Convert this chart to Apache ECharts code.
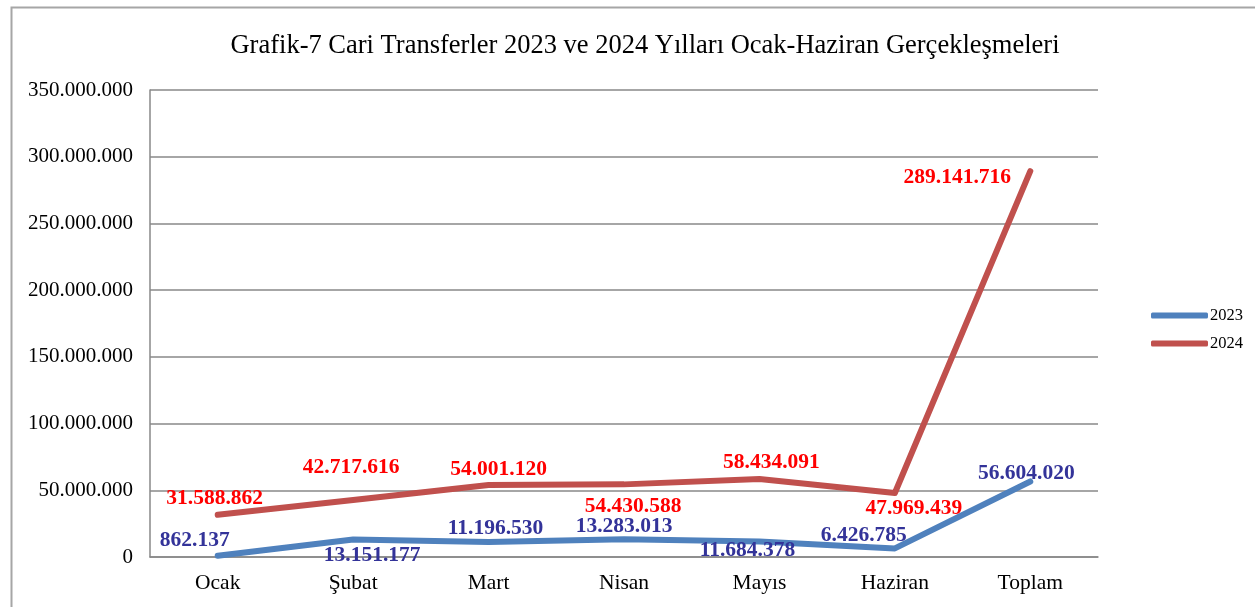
<!DOCTYPE html>
<html>
<head>
<meta charset="utf-8">
<script src="https://cdn.jsdelivr.net/npm/echarts@6/dist/echarts.min.js"></script>
<style>
  html, body { margin: 0; padding: 0; background: #fff; }
  #chart { width: 1255px; height: 607px; }
</style>
</head>
<body>
<div id="chart"></div>
<script>
var months = ['Ocak', 'Şubat', 'Mart', 'Nisan', 'Mayıs', 'Haziran', 'Toplam'];
var values2023 = [862137, 13151177, 11196530, 13283013, 11684378, 6426785, 56604020];
var values2024 = [31588862, 42717616, 54001120, 54430588, 58434091, 47969439, 289141716];
// label offsets from each point (pixels), placed as in the original
var offsets2023 = [[-23, -15], [19, 16], [7, -14], [0, -13], [-12, 9], [-31, -13], [-4, -8]];
var offsets2024 = [[-3, -16], [-2, -33], [10, -15], [9, 22], [12, -17], [19, 15], [-73, 6]];

function fmt(v) {
  return String(v).replace(/\B(?=(\d{3})+(?!\d))/g, '.');
}
function withLabels(vals, offs) {
  return vals.map(function (v, i) {
    return { value: v, label: { offset: offs[i] } };
  });
}

var myChart = echarts.init(document.getElementById('chart'));
var serif = 'Liberation Serif';
var option = {
  animation: false,
  textStyle: { fontFamily: serif },
  title: {
    text: 'Grafik-7 Cari Transferler 2023 ve 2024 Yılları Ocak-Haziran Gerçekleşmeleri',
    left: 640, top: 28, textAlign: 'center',
    textStyle: { fontFamily: serif, fontSize: 26.5, fontWeight: 'normal', color: '#000' }
  },
  graphic: [{
    type: 'rect', left: 9, top: 5,
    shape: { width: 1260, height: 620 },
    style: { fill: 'none', stroke: '#a6a6a6', lineWidth: 2 }
  }],
  legend: {
    orient: 'vertical', left: 1146, top: 302,
    itemWidth: 57, itemHeight: 6, itemGap: 11,
    textStyle: { fontFamily: serif, fontSize: 16.5, color: '#000', padding: [0, 0, 0, -3] },
    data: [
      { name: '2023', icon: 'roundRect' },
      { name: '2024', icon: 'roundRect' }
    ]
  },
  grid: { left: 150, right: 157, top: 90, bottom: 50 },
  xAxis: {
    type: 'category', data: months, boundaryGap: true,
    axisLine: { lineStyle: { color: '#888', width: 1.5 } },
    axisTick: { show: false },
    axisLabel: { fontFamily: serif, fontSize: 21.5, color: '#000', margin: 15 }
  },
  yAxis: {
    type: 'value', min: 0, max: 350000000, interval: 50000000,
    axisLine: { show: true, lineStyle: { color: '#888', width: 1.5 } },
    axisTick: { show: false },
    splitLine: { lineStyle: { color: '#888', width: 1.5 } },
    axisLabel: { fontFamily: serif, fontSize: 21, color: '#000', margin: 17, formatter: fmt }
  },
  series: [
    {
      name: '2023', type: 'line', data: withLabels(values2023, offsets2023),
      symbol: 'circle', symbolSize: 1,
      lineStyle: { color: '#4f81bd', width: 6, cap: 'round', join: 'round' },
      itemStyle: { color: '#4f81bd' },
      label: {
        show: true, position: 'inside', color: '#333399',
        fontFamily: serif, fontSize: 21.5, fontWeight: 'bold',
        formatter: function (p) { return fmt(p.value); }
      }
    },
    {
      name: '2024', type: 'line', data: withLabels(values2024, offsets2024),
      symbol: 'circle', symbolSize: 1,
      lineStyle: { color: '#c0504d', width: 6, cap: 'round', join: 'round' },
      itemStyle: { color: '#c0504d' },
      label: {
        show: true, position: 'inside', color: '#ff0000',
        fontFamily: serif, fontSize: 21.5, fontWeight: 'bold',
        formatter: function (p) { return fmt(p.value); }
      }
    }
  ]
};
myChart.setOption(option);
</script>
</body>
</html>
